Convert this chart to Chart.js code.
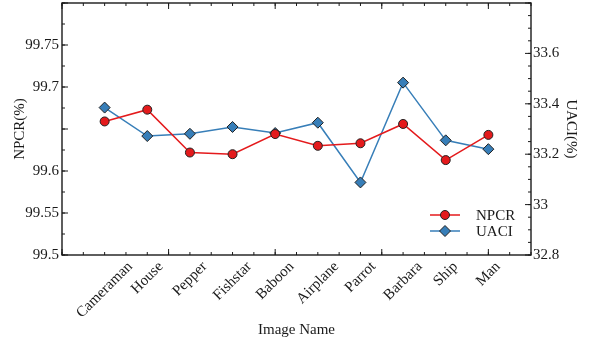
<!DOCTYPE html>
<html>
<head>
<meta charset="utf-8">
<script src="https://cdn.jsdelivr.net/npm/chart.js@4.4.0/dist/chart.umd.min.js"></script>
<style>
  body { margin: 0; background: #fff; }
  #wrap { width: 590px; height: 345px; }
</style>
</head>
<body>
<div id="wrap"><canvas id="cryptChart"></canvas></div>
<script>
// test images and the two measures
var images = ['Cameraman', 'House', 'Pepper', 'Fishstar', 'Baboon', 'Airplane', 'Parrot', 'Barbara', 'Ship', 'Man'];
var npcr = [99.659, 99.673, 99.622, 99.620, 99.644, 99.630, 99.633, 99.656, 99.613, 99.643];
var uaci = [33.385, 33.272, 33.281, 33.308, 33.284, 33.325, 33.088, 33.484, 33.255, 33.220];

// labelled ticks on each side
var npcrTicks = [99.5, 99.55, 99.6, 99.7, 99.75];
var uaciTicks = [32.8, 33, 33.2, 33.4, 33.6];

var serif = 'Liberation Serif';
var ink = '#1a1a1a';
var red = '#e41a1c';
var blue = '#377eb8';

function points(vals) {
  return vals.map(function (v, i) { return { x: i + 1, y: v }; });
}

// inward tick marks + frame, MATLAB style
var frameTicks = {
  id: 'frameTicks',
  afterDraw: function (chart) {
    var ctx = chart.ctx, a = chart.chartArea;
    var sx = chart.scales.x, sl = chart.scales.y, sr = chart.scales.y1;

    function marks(scale, step, len, draw) {
      var n = Math.round((scale.max - scale.min) / step);
      for (var i = 0; i <= n; i++) {
        draw(scale.getPixelForValue(scale.min + i * step), len);
      }
    }

    ctx.save();
    ctx.strokeStyle = ink;
    ctx.lineWidth = 1;
    ctx.beginPath();
    var xTick = function (p, len) {
      ctx.moveTo(p, a.bottom); ctx.lineTo(p, a.bottom - len);
      ctx.moveTo(p, a.top); ctx.lineTo(p, a.top + len);
    };
    marks(sx, 0.5, 3, xTick);
    marks(sx, 2.5, 6, xTick);
    var lTick = function (p, len) { ctx.moveTo(a.left, p); ctx.lineTo(a.left + len, p); };
    marks(sl, 0.025, 3, lTick);
    marks(sl, 0.05, 6, lTick);
    var rTick = function (p, len) { ctx.moveTo(a.right, p); ctx.lineTo(a.right - len, p); };
    marks(sr, 0.05, 3, rTick);
    marks(sr, 0.2, 6, rTick);
    ctx.stroke();

    ctx.lineWidth = 1.4;
    ctx.strokeRect(a.left, a.top, a.right - a.left, a.bottom - a.top);
    ctx.restore();
  }
};

// rotated category names, box of each label centred under its tick
var slantLabels = {
  id: 'slantLabels',
  afterDraw: function (chart) {
    var ctx = chart.ctx, a = chart.chartArea, sx = chart.scales.x;
    var size = 15, top = a.bottom + 4;
    ctx.save();
    ctx.font = size + 'px "' + serif + '"';
    ctx.fillStyle = ink;
    ctx.textAlign = 'center';
    ctx.textBaseline = 'middle';
    images.forEach(function (name, i) {
      var w = ctx.measureText(name).width;
      var h = (w + size) * Math.SQRT1_2;
      ctx.save();
      ctx.translate(sx.getPixelForValue(i + 1), top + h / 2);
      ctx.rotate(-Math.PI / 4);
      ctx.fillText(name, 0, 0);
      ctx.restore();
    });
    ctx.restore();
  }
};

// legend in the lower right corner of the plot, line + marker
var boxLegend = {
  id: 'boxLegend',
  afterDraw: function (chart) {
    var ctx = chart.ctx, a = chart.chartArea;
    ctx.save();
    ctx.font = '15px "' + serif + '"';
    ctx.textBaseline = 'middle';
    chart.data.datasets.forEach(function (ds, i) {
      var y = a.bottom - 40 + i * 16;
      var x0 = a.right - 101;
      ctx.strokeStyle = ds.borderColor;
      ctx.lineWidth = ds.borderWidth;
      ctx.beginPath();
      ctx.moveTo(x0, y);
      ctx.lineTo(x0 + 30, y);
      ctx.stroke();
      ctx.fillStyle = ds.pointBackgroundColor;
      ctx.strokeStyle = ds.pointBorderColor;
      ctx.lineWidth = ds.pointBorderWidth;
      Chart.helpers.drawPoint(ctx, { pointStyle: ds.pointStyle, radius: ds.pointRadius, borderWidth: ds.pointBorderWidth }, x0 + 15, y);
      ctx.fillStyle = ink;
      ctx.fillText(ds.label, x0 + 46, y + 1);
    });
    ctx.restore();
  }
};

function noEdgePad(s) {
  s.paddingTop = 0;
  s.paddingBottom = 0;
}

var ctx = document.getElementById('cryptChart').getContext('2d');
var chart = new Chart(ctx, {
  type: 'line',
  data: {
    datasets: [{
      label: 'NPCR',
      data: points(npcr),
      yAxisID: 'y',
      borderColor: red,
      borderWidth: 1.5,
      pointStyle: 'circle',
      pointRadius: 4.5,
      pointBackgroundColor: red,
      pointBorderColor: '#222',
      pointBorderWidth: 1
    }, {
      label: 'UACI',
      data: points(uaci),
      yAxisID: 'y1',
      borderColor: blue,
      borderWidth: 1.5,
      pointStyle: 'rectRot',
      pointRadius: 5.5,
      pointBackgroundColor: blue,
      pointBorderColor: '#222',
      pointBorderWidth: 1
    }]
  },
  options: {
    responsive: true,
    maintainAspectRatio: false,
    animation: false,
    layout: {
      autoPadding: false,
      padding: { top: 3, left: 0, right: 0, bottom: 0 }
    },
    plugins: {
      legend: { display: false },
      tooltip: { enabled: false }
    },
    scales: {
      x: {
        type: 'linear',
        min: 0,
        max: 11,
        afterBuildTicks: function (s) {
          s.ticks = images.map(function (n, i) { return { value: i + 1 }; });
        },
        afterFit: function (s) {
          s.height = 90;
          s.paddingLeft = 0;
          s.paddingRight = 0;
        },
        grid: { display: false, drawTicks: false },
        border: { display: false },
        ticks: { display: false },
        title: {
          display: true,
          text: 'Image Name',
          color: ink,
          font: { family: serif, size: 15 },
          padding: { top: 0, bottom: 6 }
        }
      },
      y: {
        position: 'left',
        min: 99.5,
        max: 99.8,
        afterBuildTicks: function (s) {
          s.ticks = npcrTicks.map(function (v) { return { value: v }; });
        },
        afterFit: function (s) { s.width = 62; noEdgePad(s); },
        grid: { display: false, drawTicks: false },
        border: { display: false },
        ticks: {
          padding: 3,
          color: ink,
          font: { family: serif, size: 15 },
          callback: function (v) { return String(v); }
        },
        title: {
          display: true,
          text: 'NPCR(%)',
          color: ink,
          font: { family: serif, size: 15 },
          padding: { top: 11, bottom: 0 }
        }
      },
      y1: {
        position: 'right',
        min: 32.8,
        max: 33.8,
        afterBuildTicks: function (s) {
          s.ticks = uaciTicks.map(function (v) { return { value: v }; });
        },
        afterFit: function (s) { s.width = 59; noEdgePad(s); },
        grid: { display: false, drawTicks: false },
        border: { display: false },
        ticks: {
          padding: 2,
          color: ink,
          font: { family: serif, size: 15 },
          callback: function (v) { return String(v); }
        },
        title: {
          display: true,
          text: 'UACI(%)',
          color: ink,
          font: { family: serif, size: 15 },
          padding: { top: 10, bottom: 0 }
        }
      }
    }
  },
  plugins: [frameTicks, slantLabels, boxLegend]
});
</script>
</body>
</html>
